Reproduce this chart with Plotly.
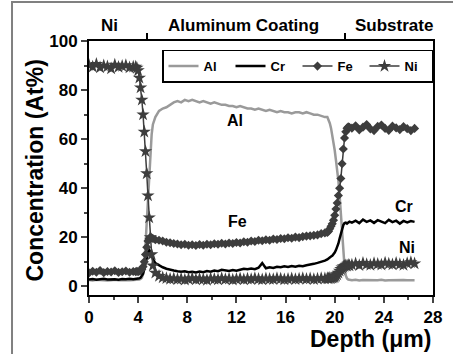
import plotly.graph_objects as go

# ---------------- data ----------------
depth = [
    0.0, 0.3, 0.6, 0.9, 1.2, 1.5, 1.8, 2.1, 2.4, 2.7, 3.0, 3.3, 3.6,
    3.8, 3.9, 4.0, 4.1, 4.2, 4.3, 4.4, 4.5, 4.6, 4.7, 4.8, 4.9, 5.0, 5.1, 5.2,
    5.4, 5.7, 6.0, 6.3, 6.6, 6.9, 7.2, 7.5, 7.8, 8.1, 8.4, 8.7, 9.0, 9.3, 9.6, 9.9,
    10.2, 10.5, 10.8, 11.1, 11.4, 11.7, 12.0, 12.3, 12.6, 12.9, 13.2, 13.5, 13.8,
    14.1, 14.4, 14.7, 15.0, 15.3, 15.6, 15.9, 16.2, 16.5, 16.8, 17.1, 17.4, 17.7,
    18.0, 18.3, 18.6, 18.9, 19.2,
    19.4, 19.5, 19.6, 19.7, 19.8, 19.9, 20.0, 20.1, 20.2, 20.3, 20.4, 20.5, 20.6,
    20.7, 20.8, 20.9, 21.0, 21.1, 21.2,
    21.4, 21.7, 22.0, 22.3, 22.6, 22.9, 23.2, 23.5, 23.8, 24.1, 24.4, 24.7, 25.0,
    25.3, 25.6, 25.9, 26.2, 26.5,
]

al = [
    2.6, 2.4, 2.7, 2.5, 2.6, 2.4, 2.5, 2.7, 2.5, 2.4, 2.6, 2.5, 2.6,
    2.6, 2.6, 2.7, 2.8, 3.0, 3.5, 5.0, 9.0, 17, 27, 38, 48, 56, 62, 66,
    69, 71.5, 72.5, 73, 74, 75, 75.5, 75, 76, 75.5, 76, 75.5, 75, 75.5, 75, 74.5,
    75, 74.5, 74, 74, 73.5, 73.5, 73, 73.5, 73, 72.5, 72.5, 72, 72.5,
    72, 71.5, 72, 71.5, 71, 71.5, 71, 71, 70.5, 71, 71, 70.5, 71,
    70.5, 70, 70, 69.5, 69,
    69, 68, 66.5, 64.5, 62, 59, 55.5, 51.5, 47.5, 43, 37, 30, 22,
    14, 8, 4.5, 3.2, 2.8, 2.7,
    2.5, 2.7, 2.4, 2.6, 2.5, 2.4, 2.6, 2.5, 2.7, 2.4, 2.5, 2.6, 2.4,
    2.5, 2.6, 2.5, 2.4, 2.5,
]

cr = [
    2.8, 3.0, 2.7, 2.9, 3.1, 2.8, 3.0, 2.9, 2.7, 3.0, 2.9, 3.1, 2.9,
    3.0, 3.0, 3.1, 3.3, 3.6, 4.2, 5.2, 7.0, 9.5, 12, 13.8, 14.8, 14.2, 12.8, 11.2,
    9.5, 8.5, 7.8, 7.2, 7.0, 6.5, 6.2, 6.0, 6.2, 5.8, 6.0, 5.7, 6.1, 5.8, 6.3, 6.0,
    6.5, 6.2, 6.8, 6.5, 6.3, 6.7, 6.4, 6.8, 7.2, 7.0, 7.3, 7.0, 7.6,
    9.5, 7.4, 7.8, 7.5, 8.0, 7.8, 8.2, 7.9, 8.3, 8.0, 8.4, 8.2, 8.6,
    8.8, 9.2, 9.6, 10.0, 10.5,
    11.0, 11.5, 11.8, 12.2, 12.5, 13.0, 13.8, 14.8, 16.0, 17.5, 19.5, 21.5, 23.5,
    25.0, 25.8, 26.0, 25.6, 26.2, 26.4,
    26.0, 26.8, 25.8, 27.2, 26.3, 26.9, 25.9, 27.0, 26.4, 25.8, 27.1, 26.2, 26.8,
    25.6, 26.7, 26.1, 26.6, 26.3,
]

fe = [
    5.5, 6.2, 5.8, 6.5, 5.6, 6.1, 5.9, 6.4, 5.7, 6.0, 6.3, 5.8, 6.1,
    6.0, 6.2, 6.0, 6.3, 6.5, 7.0, 8.0, 10, 13, 16, 18.5, 19.5, 20, 19.8, 19.5,
    19, 18.8, 18.5, 18, 17.8, 17.5, 17.3, 17, 17.2, 16.8, 17, 16.7, 17.1, 16.8, 17.2, 17,
    17.4, 17.2, 17.6, 17.3, 17.7, 17.5, 17.9, 17.7, 18.2, 18, 18.5, 18.3, 18.8,
    18.6, 19, 18.8, 19.3, 19.1, 19.5, 19.4, 19.8, 19.6, 20.1, 19.9, 20.3, 20.5,
    20.6, 20.8, 21, 21.5, 21.8,
    22, 22.5, 23.5, 24.5, 25.5, 27, 29, 31.5, 34, 37, 40, 44, 50,
    56, 60.5, 63, 64.5, 65, 64.8,
    64.5, 65.5, 63.8, 64.9, 66, 64.2, 63.5, 65.2, 65.8, 64.4, 63.6, 65.3, 64.6,
    63.9, 65.1, 64.3, 63.5, 64.4,
]

ni = [
    90.2, 89.5, 90.6, 89.2, 90.0, 89.6, 88.8, 90.3, 89.4, 89.8, 90.1, 89.2, 89.5,
    89.5, 89.0, 88, 85, 81, 76, 70, 63, 55, 46, 37, 28, 20, 13, 8.5,
    5.5, 4.2, 3.6, 3.3, 3.0, 3.2, 2.9, 3.1, 2.7, 3.0, 3.3, 2.8, 3.1, 2.9, 2.6, 3.2,
    3.0, 2.8, 3.3, 2.9, 3.1, 2.7, 3.0, 3.2, 2.8, 3.1, 2.9, 3.3, 3.0,
    2.8, 3.2, 3.0, 2.9, 3.3, 3.1, 2.8, 3.0, 3.2, 2.9, 3.1, 3.3, 3.0,
    3.2, 2.9, 3.1, 3.3, 3.2,
    3.3, 3.2, 3.4, 3.3, 3.5, 3.6, 3.8, 4.2, 4.8, 5.5, 6.3, 7.0, 7.6,
    8.0, 8.3, 8.5, 8.4, 8.7, 8.5,
    8.8, 9.3, 8.6, 9.5, 9.0, 8.7, 9.4, 9.1, 8.8, 9.6, 9.2, 8.9, 9.5,
    9.0, 8.7, 9.4, 9.8, 9.3,
]

region_names = ["Ni", "Aluminum Coating", "Substrate"]
region_centers = [1.7, 12.6, 24.8]
region_bounds = [4.7, 20.8]

curve_labels = ["Al", "Fe", "Cr", "Ni"]
curve_label_x = [11.9, 12.1, 25.6, 25.85]
curve_label_y = [67.5, 26.5, 32.5, 16.0]

x_ticks = [0, 4, 8, 12, 16, 20, 24, 28]
y_ticks = [0, 20, 40, 60, 80, 100]

# ---------------- figure ----------------
FONT = "Liberation Sans, Arial, sans-serif"
fig = go.Figure()

fig.add_trace(go.Scatter(x=depth, y=al, name="Al", mode="lines",
                         line=dict(color="#9a9a9a", width=2.5)))
fig.add_trace(go.Scatter(x=depth, y=cr, name="Cr", mode="lines",
                         line=dict(color="#000000", width=2.5)))
fig.add_trace(go.Scatter(x=depth, y=fe, name="Fe", mode="lines+markers",
                         line=dict(color="#3d3d3d", width=1.5),
                         marker=dict(symbol="diamond", size=7, color="#3d3d3d")))
fig.add_trace(go.Scatter(x=depth, y=ni, name="Ni", mode="lines+markers",
                         line=dict(color="#3d3d3d", width=1.5),
                         marker=dict(symbol="star", size=10, color="#3d3d3d")))
# hidden trace anchoring the top (region boundary) axis
fig.add_trace(go.Scatter(x=region_bounds, y=[None] * len(region_bounds), xaxis="x2",
                         showlegend=False, hoverinfo="skip", mode="markers",
                         marker=dict(opacity=0)))

tickfont = dict(family=FONT, size=17, color="black", weight="bold")

fig.update_layout(
    width=453, height=354,
    margin=dict(l=89, r=20, t=41, b=59),
    paper_bgcolor="white", plot_bgcolor="white",
    font=dict(family=FONT, color="black"),
    xaxis=dict(range=[0, 28], tickvals=x_ticks, ticks="outside", ticklen=6, tickwidth=1.5,
               minor=dict(dtick=2, tick0=0, ticks="outside", ticklen=3, tickwidth=1.5),
               showline=True, linecolor="black", linewidth=2, mirror=True,
               showgrid=False, zeroline=False, tickfont=tickfont),
    xaxis2=dict(range=[0, 28], overlaying="x", side="top", tickvals=region_bounds,
                ticks="outside", ticklen=7, tickwidth=1.5, tickcolor="black",
                showticklabels=False, showline=False, showgrid=False, zeroline=False),
    yaxis=dict(range=[-3.5, 100.01], tickvals=y_ticks, ticks="outside", ticklen=6, tickwidth=1.5,
               minor=dict(dtick=10, tick0=0, ticks="outside", ticklen=3, tickwidth=1.5),
               showline=True, linecolor="black", linewidth=2, mirror=True,
               showgrid=False, zeroline=False, tickfont=tickfont),
    legend=dict(orientation="h", x=1.0, xanchor="right", y=0.966, yanchor="top",
                bordercolor="black", borderwidth=1.5, bgcolor="white",
                font=dict(family=FONT, size=13, color="black", weight="bold"),
                itemwidth=30, entrywidth=22, entrywidthmode="pixels", tracegroupgap=0),
    showlegend=True,
)

annotations = []
for name, cx in zip(region_names, region_centers):
    annotations.append(dict(x=cx, y=1.06, xref="x", yref="paper", text=name,
                            showarrow=False, xanchor="center", yanchor="middle",
                            font=dict(family=FONT, size=17, color="black", weight="bold")))
for name, lx, ly in zip(curve_labels, curve_label_x, curve_label_y):
    annotations.append(dict(x=lx, y=ly, xref="x", yref="y", text=name,
                            showarrow=False, xanchor="center", yanchor="middle",
                            font=dict(family=FONT, size=16, color="black", weight="bold")))
annotations.append(dict(x=1.0, y=-0.173, xref="paper", yref="paper", text="Depth (μm)",
                        showarrow=False, xanchor="right", yanchor="middle",
                        font=dict(family=FONT, size=23, color="black", weight="bold")))
annotations.append(dict(x=-0.157, y=0.49, xref="paper", yref="paper",
                        text="Concentration (At%)", textangle=-90,
                        showarrow=False, xanchor="center", yanchor="middle",
                        font=dict(family=FONT, size=23, color="black", weight="bold")))
fig.update_layout(annotations=annotations)

# outer gray frame of the figure panel
fig.add_shape(type="rect", xref="paper", yref="paper",
              x0=-0.2238, x1=1.3, y0=-0.5, y1=1.1535,
              line=dict(color="#808080", width=2), fillcolor="rgba(0,0,0,0)", layer="below")

fig.write_html("out.html", config={"displayModeBar": False},
               post_script="document.body.style.margin='0px';")
